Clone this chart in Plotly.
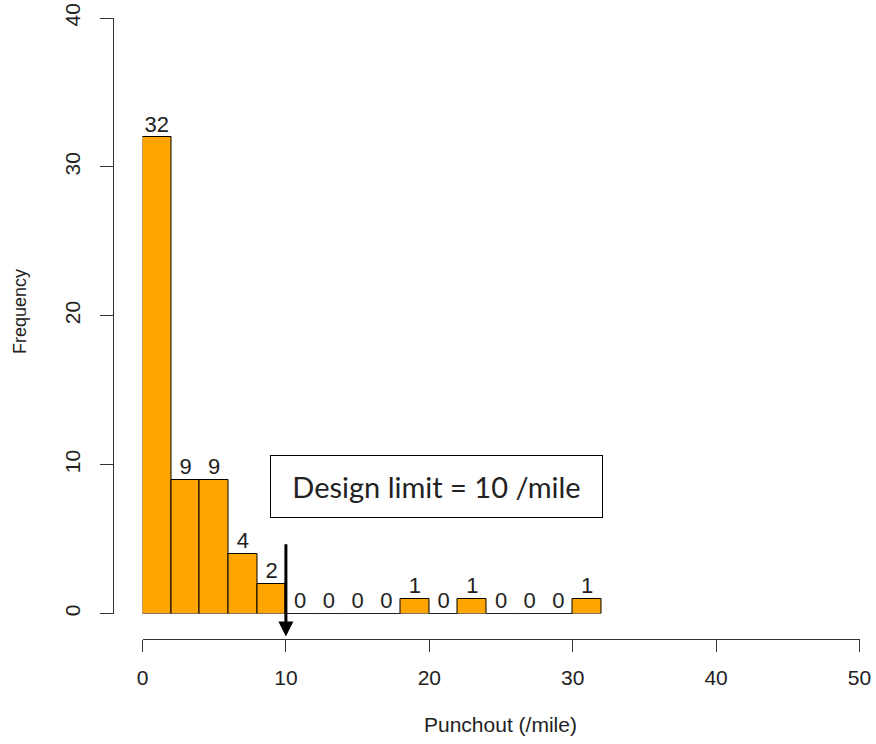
import plotly.graph_objects as go

# Histogram data (bin width 2, starting at 0)
bin_edges = [0, 2, 4, 6, 8, 10, 12, 14, 16, 18, 20, 22, 24, 26, 28, 30, 32]
counts = [32, 9, 9, 4, 2, 0, 0, 0, 0, 1, 0, 1, 0, 0, 0, 1]
x_ticks = [0, 10, 20, 30, 40, 50]
y_ticks = [0, 10, 20, 30, 40]
design_limit = 10
box_text = "Design limit = 10 /mile"

W, H = 876, 744


def px(x):
    return x / W


def py(y):
    return 1 - y / H


centers = [(a + b) / 2 for a, b in zip(bin_edges[:-1], bin_edges[1:])]
widths = [b - a for a, b in zip(bin_edges[:-1], bin_edges[1:])]

fig = go.Figure()
fig.add_trace(go.Bar(
    x=centers, y=counts, width=widths,
    marker=dict(color="#FFA500", line=dict(color="black", width=1)),
    hoverinfo="skip",
))

# zero-height rectangles drawn as lines (like R)
zx, zy = [], []
for a, b, c in zip(bin_edges[:-1], bin_edges[1:], counts):
    if c == 0:
        zx += [a, b, None]
        zy += [0, 0, None]
fig.add_trace(go.Scatter(x=zx, y=zy, mode="lines",
                         line=dict(color="black", width=1), hoverinfo="skip"))

# count labels
fig.add_trace(go.Scatter(
    x=centers, y=counts, mode="text", text=[str(c) for c in counts],
    textposition="top center",
    textfont=dict(family="Liberation Sans, Arial", size=22, color="#222"),
    cliponaxis=False, hoverinfo="skip",
))

fig.update_layout(
    width=W, height=H,
    margin=dict(l=0, r=0, t=0, b=0),
    plot_bgcolor="white", paper_bgcolor="white",
    showlegend=False, bargap=0,
    font=dict(family="Liberation Sans, Arial", color="#222"),
    xaxis=dict(
        domain=[px(142.5), px(859.5)], range=[0, 50], anchor="free",
        position=py(639),
        showline=True, linecolor="#333", linewidth=1,
        ticks="outside", ticklen=12, tickcolor="#333",
        tickvals=x_ticks, ticktext=[str(v) for v in x_ticks],
        tickfont=dict(size=21), showgrid=False, zeroline=False,
        automargin=False, ticklabelstandoff=8, ticklabeloverflow="allow",
    ),
    yaxis=dict(
        domain=[py(613.5), py(18)], range=[0, 40], anchor="free",
        position=px(113),
        showline=True, linecolor="#333", linewidth=1,
        ticks="outside", ticklen=13, tickcolor="#333",
        tickvals=y_ticks, ticktext=[str(v) for v in y_ticks],
        tickangle=-90,
        tickfont=dict(size=21), showgrid=False, zeroline=False,
        automargin=False, ticklabelstandoff=12, ticklabeloverflow="allow",
    ),
)

fig.add_annotation(
    text="Frequency", xref="paper", yref="paper",
    x=px(20), y=py(312), xanchor="center", yanchor="middle",
    textangle=-90, showarrow=False,
    font=dict(size=18, family="Liberation Sans, Arial", color="#222"),
)
fig.add_annotation(
    text="Punchout (/mile)", xref="paper", yref="paper",
    x=px(500), y=py(724), xanchor="center", yanchor="middle",
    showarrow=False,
    font=dict(size=21, family="Liberation Sans, Arial", color="#222"),
)

# design limit box
fig.add_annotation(
    text=box_text, xref="x", yref="y", x=20.53, y=8.5,
    showarrow=False, width=329, height=59,
    bordercolor="black", borderwidth=1, bgcolor="white",
    font=dict(size=29, family="Lato, Open Sans", color="#222"),
)

# arrow at the design limit
fig.add_annotation(
    text="", xref="x", yref="y", axref="x", ayref="y",
    x=design_limit, y=-1.55, ax=design_limit, ay=4.75,
    showarrow=True, arrowhead=2, arrowsize=1, arrowwidth=3,
    arrowcolor="black",
)

fig.write_html(
    "out.html",
    config={"displayModeBar": False},
    post_script="document.body.style.margin='0';document.body.style.overflow='hidden';",
)
